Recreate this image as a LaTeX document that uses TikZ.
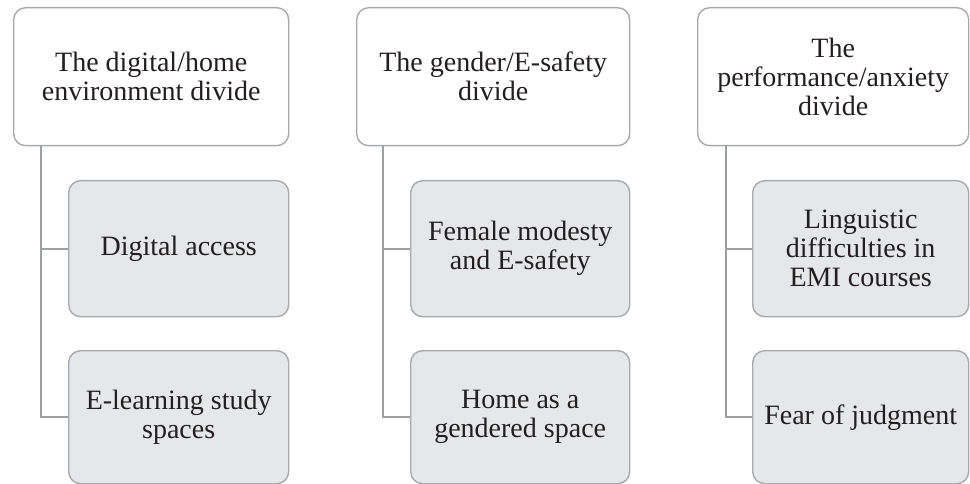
\documentclass[tikz,border=0pt]{standalone}
\usepackage{fontspec}
\setmainfont{Liberation Serif}
\definecolor{bordergray}{HTML}{A7A9AC}
\definecolor{linegray}{HTML}{9D9FA2}
\definecolor{fillgray}{HTML}{E6E7E8}
\definecolor{textdark}{HTML}{231F20}
\begin{document}
\begin{tikzpicture}[x=1pt,y=-1pt,
  box/.style={draw=bordergray, line width=1.4pt, rounded corners=12pt, anchor=north west,
    align=center, inner sep=2pt, text=textdark, font=\fontsize{28}{29}\selectfont},
  parentbox/.style={box, fill=white, minimum height=138pt},
  childbox/.style={box, fill=fillgray},
  conn/.style={draw=linegray, line width=1.6pt}]
\useasboundingbox (0,0) rectangle (970,484);
% column 1
\node[parentbox, minimum width=275pt] (p1) at (13,7) {The digital/home\\environment divide};
\node[childbox, minimum width=220pt, minimum height=136pt] (c1a) at (68,180) {Digital access};
\node[childbox, minimum width=220pt, minimum height=133pt] (c1b) at (68,350) {E-learning study\\spaces};
% column 2
\node[parentbox, minimum width=273pt] (p2) at (356,7) {The gender/E-safety\\divide};
\node[childbox, minimum width=219pt, minimum height=136pt] (c2a) at (410,180) {Female modesty\\and E-safety};
\node[childbox, minimum width=219pt, minimum height=133pt] (c2b) at (410,350) {Home as a\\gendered space};
% column 3
\node[parentbox, minimum width=271pt] (p3) at (697,7) {The\\performance/anxiety\\divide};
\node[childbox, minimum width=216pt, minimum height=136pt] (c3a) at (752,180) {Linguistic\\difficulties in\\EMI courses};
\node[childbox, minimum width=216pt, minimum height=133pt] (c3b) at (752,350) {Fear of judgment};
% connectors
\draw[conn] ([xshift=28pt]p1.south west) |- (c1a.west);
\draw[conn] ([xshift=28pt]p1.south west) |- (c1b.west);
\draw[conn] ([xshift=27pt]p2.south west) |- (c2a.west);
\draw[conn] ([xshift=27pt]p2.south west) |- (c2b.west);
\draw[conn] ([xshift=29pt]p3.south west) |- (c3a.west);
\draw[conn] ([xshift=29pt]p3.south west) |- (c3b.west);
\end{tikzpicture}
\end{document}
